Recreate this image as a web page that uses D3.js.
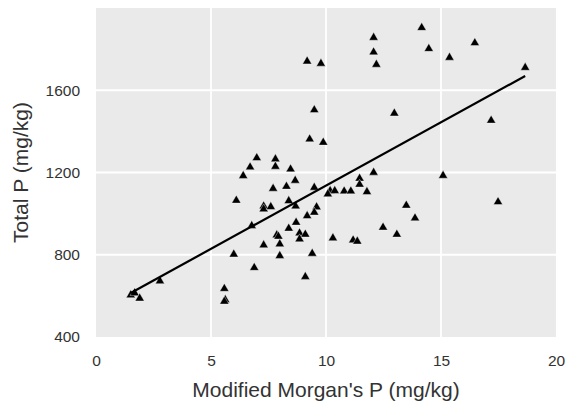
<!DOCTYPE html>
<html>
<head>
<meta charset="utf-8">
<script src="https://cdn.jsdelivr.net/npm/d3@7"></script>
<style>
  body { margin: 0; background: #fff; }
  text { font-family: "Liberation Sans", Arial, sans-serif; fill: #333; }
</style>
</head>
<body>
<div id="chart"></div>
<script>
// Modified Morgan's P (mg/kg)
const morganP = [14.16, 12.07, 12.07, 12.19, 9.18, 9.78, 14.47, 16.47, 15.37, 18.66,
    9.49, 12.97, 17.18, 9.29, 9.88, 6.99, 7.80, 7.80, 6.70, 8.46,
    6.40, 12.07, 15.09, 11.46, 11.46, 8.66, 8.28, 7.70, 9.49, 10.18,
    10.08, 10.38, 10.79, 11.08, 11.78, 6.10, 8.38, 7.29, 7.29, 7.60,
    8.68, 9.59, 9.49, 9.18, 13.49, 17.48, 13.87, 6.77, 8.70, 8.38,
    12.48, 8.85, 9.10, 7.86, 7.93, 8.85, 13.08, 10.30, 11.18, 11.36,
    7.29, 7.99, 9.40, 5.99, 7.99, 6.88, 9.10, 2.78, 5.58, 5.62,
    5.58, 1.51, 1.68, 1.90];

// Total P (mg/kg)
const totalP = [1904, 1856, 1785, 1725, 1741, 1730, 1802, 1830, 1759, 1710,
    1504, 1488, 1453, 1362, 1346, 1271, 1265, 1229, 1226, 1216,
    1184, 1200, 1185, 1171, 1142, 1161, 1132, 1122, 1127, 1111,
    1095, 1111, 1109, 1109, 1106, 1064, 1062, 1036, 1022, 1033,
    1036, 1032, 1006, 989, 1040, 1057, 978, 941, 957, 928,
    933, 905, 899, 896, 889, 876, 899, 881, 871, 865,
    847, 852, 806, 802, 795, 737, 693, 672, 635, 581,
    573, 604, 614, 588];

const xTicks = [0, 5, 10, 15, 20];
const yTicks = [400, 800, 1200, 1600];

const width = 566, height = 401;
const margin = {top: 8, right: 10, bottom: 64, left: 96};

const svg = d3.select("#chart").append("svg")
    .attr("width", width)
    .attr("height", height);

const x = d3.scaleLinear().domain([0, 20]).range([margin.left, width - margin.right]);
const y = d3.scaleLinear().domain([400, 2000]).range([height - margin.bottom, margin.top]);

// panel background
svg.append("rect")
    .attr("x", x(0)).attr("y", y(2000))
    .attr("width", x(20) - x(0))
    .attr("height", y(400) - y(2000))
    .attr("fill", "#eaeaea");

// grid
svg.append("g").selectAll("line").data(xTicks.slice(1, -1)).join("line")
    .attr("x1", d => x(d)).attr("x2", d => x(d))
    .attr("y1", y(2000)).attr("y2", y(400))
    .attr("stroke", "#fff").attr("stroke-width", 1.8);
svg.append("g").selectAll("line").data(yTicks.slice(1)).join("line")
    .attr("x1", x(0)).attr("x2", x(20))
    .attr("y1", d => y(d)).attr("y2", d => y(d))
    .attr("stroke", "#fff").attr("stroke-width", 1.8);

// axes, no tick marks or domain
const xAxis = svg.append("g")
    .attr("transform", `translate(0,${y(400)})`)
    .call(d3.axisBottom(x).tickValues(xTicks).tickSize(0).tickPadding(18));
const yAxis = svg.append("g")
    .attr("transform", `translate(${x(0)},0)`)
    .call(d3.axisLeft(y).tickValues(yTicks).tickSize(0).tickPadding(16).tickFormat(d3.format("d")));
[xAxis, yAxis].forEach(g => {
    g.select(".domain").remove();
    g.selectAll("text")
        .attr("font-size", "15.5px")
        .attr("font-family", "'Liberation Sans', Arial, sans-serif")
        .attr("fill", "#333");
});

// points
const pts = morganP.map((v, i) => ({x: v, y: totalP[i]}));
svg.append("g").selectAll("path").data(pts).join("path")
    .attr("d", d3.symbol().type(d3.symbolTriangle).size(36))
    .attr("transform", d => `translate(${x(d.x)},${y(d.y)})`)
    .attr("fill", "#000")
    .attr("stroke", "#fff")
    .attr("stroke-width", 0.4);

// least squares fit over the data range
const mx = d3.mean(morganP), my = d3.mean(totalP);
const slope = d3.sum(pts, d => (d.x - mx) * (d.y - my)) / d3.sum(pts, d => (d.x - mx) ** 2);
const intercept = my - slope * mx;
const ext = d3.extent(morganP);
svg.append("path")
    .datum(ext.map(v => ({x: v, y: intercept + slope * v})))
    .attr("fill", "none")
    .attr("stroke", "#000")
    .attr("stroke-width", 2.2)
    .attr("d", d3.line().x(d => x(d.x)).y(d => y(d.y)));

// titles
svg.append("text")
    .attr("x", (x(0) + x(20)) / 2)
    .attr("y", 397)
    .attr("text-anchor", "middle")
    .attr("font-size", "21px")
    .text("Modified Morgan's P (mg/kg)");
svg.append("text")
    .attr("transform", `translate(28,${(y(400) + y(2000)) / 2}) rotate(-90)`)
    .attr("text-anchor", "middle")
    .attr("font-size", "21px")
    .text("Total P (mg/kg)");
</script>
</body>
</html>
